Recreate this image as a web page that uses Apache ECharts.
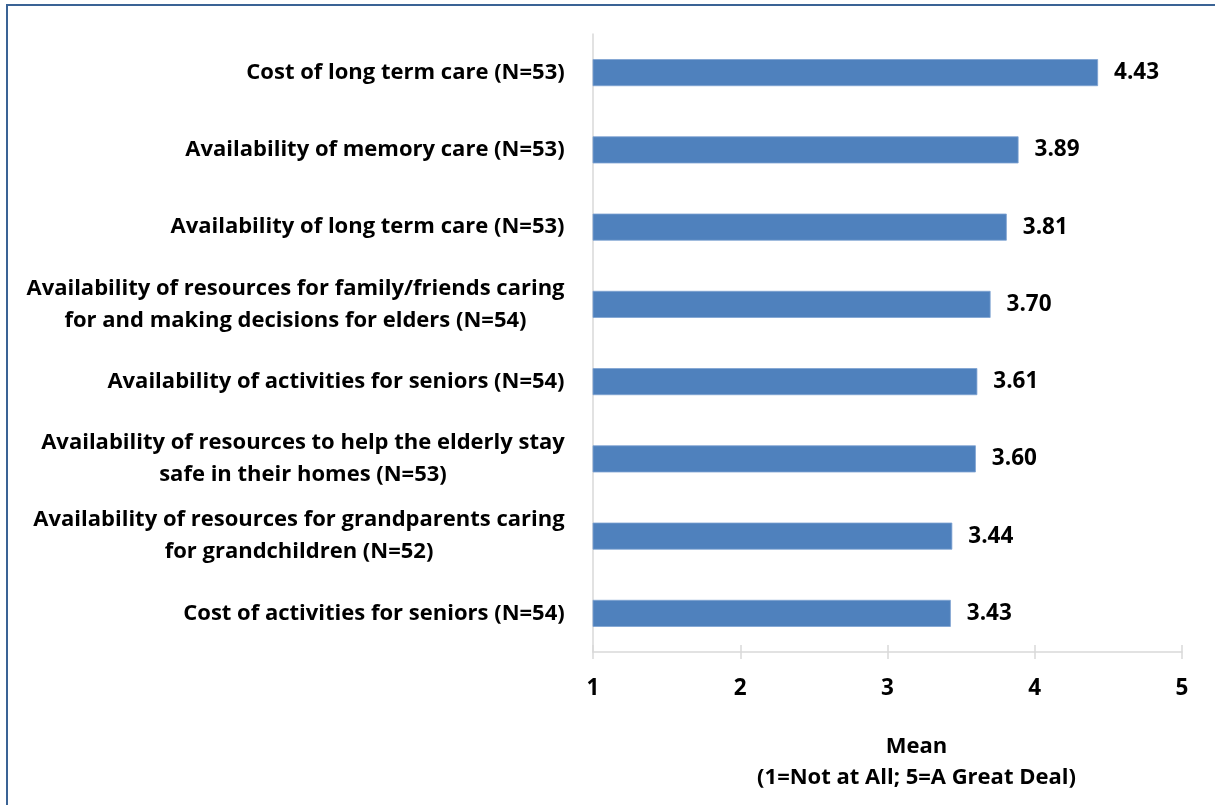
<!DOCTYPE html>
<html><head><meta charset="utf-8">
<script src="https://cdn.jsdelivr.net/npm/echarts@6/dist/echarts.min.js"></script>
<style>html,body{margin:0;padding:0;background:#fff}#c{width:1215px;height:805px}</style>
</head><body><div id="c"></div>
<script>
const categories = [
  'Cost of long term care (N=53)',
  'Availability of memory care (N=53)',
  'Availability of long term care (N=53)',
  'Availability of resources for family/friends caring\nfor and making decisions for elders (N=54)',
  'Availability of activities for seniors (N=54)',
  'Availability of resources to help the elderly stay\nsafe in their homes (N=53)',
  'Availability of resources for grandparents caring\nfor grandchildren (N=52)',
  'Cost of activities for seniors (N=54)'
];
const values = [4.43, 3.89, 3.81, 3.70, 3.61, 3.60, 3.44, 3.43];
const xMin = 1, xMax = 5, xStep = 1;
const axisTitle = ['Mean', '(1=Not at All; 5=A Great Deal)'];

const cvs = document.createElement('canvas').getContext('2d');
function mw(t, fam, size) { cvs.font = 'bold ' + size + 'px ' + fam; return cvs.measureText(t).width; }

const FAM = '"Open Sans"';
const FS = Math.round(20 * 318 / mw(categories[0], FAM, 20) * 2) / 2;

const rich = {};
categories.forEach((c, i) => {
  const w = Math.max(...c.split('\n').map(l => mw(l, FAM, FS)));
  rich['c' + i] = { width: Math.ceil(w) + 2, align: 'center', fontSize: FS, fontWeight: 'bold', fontFamily: FAM, color: '#000', lineHeight: 32 };
});

const chart = echarts.init(document.getElementById('c'), null, { renderer: 'canvas' });
chart.setOption({
  animation: false,
  backgroundColor: '#fff',
  textStyle: { fontFamily: FAM },
  graphic: [
    { type: 'rect', shape: { x: 7, y: 5, width: 1400, height: 1000 }, style: { fill: 'none', stroke: '#3A6395', lineWidth: 2 }, silent: true }
  ],
  grid: { left: 593, right: 33, top: 34, bottom: 153, containLabel: false },
  xAxis: [{
    type: 'value', min: xMin, max: xMax, interval: xStep,
    axisLine: { show: true, lineStyle: { color: '#D9D9D9', width: 1.5 } },
    axisTick: { show: true, length: 7, lineStyle: { color: '#D9D9D9', width: 1.5 } },
    splitLine: { show: false },
    axisLabel: { fontSize: FS + 0.5, fontWeight: 'bold', color: '#000', margin: 25, fontFamily: FAM },
    name: axisTitle.join('\n'), nameLocation: 'middle', nameGap: 79,
    nameTextStyle: { fontSize: FS, fontWeight: 'bold', color: '#000', lineHeight: 31, padding: [0, 0, 0, 58], fontFamily: FAM }
  }, {
    type: 'value', min: xMin, max: xMax, interval: xStep, position: 'bottom',
    axisLine: { show: false },
    axisTick: { show: true, inside: true, length: 7, lineStyle: { color: '#D9D9D9', width: 1.5 } },
    axisLabel: { show: false }, splitLine: { show: false }
  }],
  yAxis: {
    type: 'category', data: categories, inverse: true,
    axisLine: { show: true, lineStyle: { color: '#D9D9D9', width: 1.5 } },
    axisTick: { show: false },
    axisLabel: {
      margin: 27, align: 'right', rich: rich,
      formatter: (v, i) => v.split('\n').map(l => '{c' + i + '|' + l + '}').join('\n')
    }
  },
  series: [{
    type: 'bar', data: values, barWidth: '35%', xAxisIndex: 0,
    itemStyle: { color: '#4F81BD', borderColor: '#7EA2D2', borderWidth: 0.8 },
    label: { show: true, position: 'right', distance: 16, formatter: p => p.value.toFixed(2), fontSize: FS + 0.5, fontWeight: 'bold', color: '#000', fontFamily: FAM }
  }]
});
</script></body></html>
